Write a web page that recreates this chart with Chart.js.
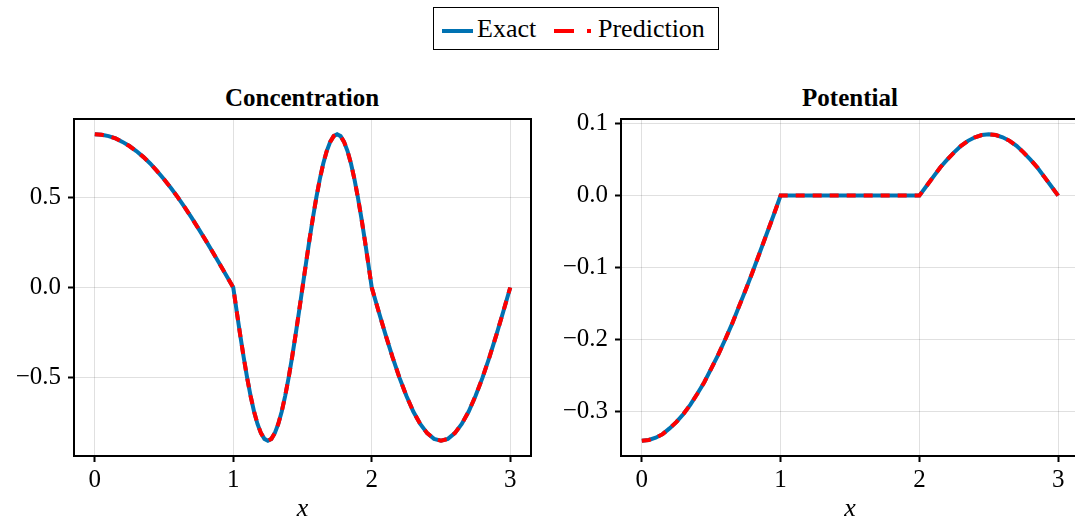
<!DOCTYPE html>
<html>
<head>
<meta charset="utf-8">
<script src="https://cdn.jsdelivr.net/npm/chart.js@4.4.1/dist/chart.umd.min.js"></script>
<style>
  html, body { margin: 0; padding: 0; background: #fff; overflow: hidden; width: 1075px; height: 522px; }
  body { position: relative; font-family: "Liberation Serif", serif; color: #000; }
  canvas { position: absolute; top: 0; }
  #concCanvas { left: 0; }
  #potCanvas { left: 540px; }
  .title { position: absolute; top: 83px; font-size: 25px; font-weight: bold; transform: translateX(-50%); white-space: nowrap; line-height: 30px; }
  #legend { position: absolute; left: 433px; top: 7px; width: 286px; height: 43px; border: 1px solid #000; box-sizing: border-box; }
  #legend svg { position: absolute; top: 20px; }
  #legend span { position: absolute; top: 7px; font-size: 26px; line-height: 28px; }
</style>
</head>
<body>
<div id="legend">
  <svg style="left:8px" width="31" height="6"><line x1="0" y1="3" x2="31" y2="3" stroke="#0072b2" stroke-width="4"/></svg>
  <span style="left:43px">Exact</span>
  <svg style="left:120px" width="37" height="6"><line x1="0" y1="3" x2="37" y2="3" stroke="#ff0000" stroke-width="4" stroke-dasharray="20,13"/></svg>
  <span style="left:164px">Prediction</span>
</div>
<div class="title" style="left:302px">Concentration</div>
<div class="title" style="left:850px">Potential</div>
<canvas id="concCanvas" width="545" height="522"></canvas>
<canvas id="potCanvas" width="545" height="522"></canvas>
<script>
// concentration sampled finer between 1 and 2 where it oscillates fast
const concX = [0, 0.05, 0.1, 0.15, 0.2, 0.25, 0.3, 0.35, 0.4, 0.45, 0.5, 0.55, 0.6, 0.65, 0.7, 0.75, 0.8, 0.85, 0.9, 0.95,
  1, 1.025, 1.05, 1.075, 1.1, 1.125, 1.15, 1.175, 1.2, 1.225, 1.25, 1.275, 1.3, 1.325, 1.35, 1.375, 1.4, 1.425, 1.45, 1.475,
  1.5, 1.525, 1.55, 1.575, 1.6, 1.625, 1.65, 1.675, 1.7, 1.725, 1.75, 1.775, 1.8, 1.825, 1.85, 1.875, 1.9, 1.925, 1.95, 1.975,
  2, 2.05, 2.1, 2.15, 2.2, 2.25, 2.3, 2.35, 2.4, 2.45, 2.5, 2.55, 2.6, 2.65, 2.7, 2.75, 2.8, 2.85, 2.9, 2.95, 3];
const concExact = [0.850, 0.847, 0.840, 0.827, 0.808, 0.785, 0.757, 0.725, 0.688, 0.646, 0.601, 0.552, 0.500, 0.444, 0.386, 0.325, 0.263, 0.198, 0.133, 0.067,
  0.000, -0.133, -0.263, -0.386, -0.500, -0.601, -0.688, -0.757, -0.808, -0.840, -0.850, -0.840, -0.808, -0.757, -0.688, -0.601, -0.500, -0.386, -0.263, -0.133,
  0.000, 0.133, 0.263, 0.386, 0.500, 0.601, 0.688, 0.757, 0.808, 0.840, 0.850, 0.840, 0.808, 0.757, 0.688, 0.601, 0.500, 0.386, 0.263, 0.133,
  0.000, -0.133, -0.263, -0.386, -0.500, -0.601, -0.688, -0.757, -0.808, -0.840, -0.850, -0.840, -0.808, -0.757, -0.688, -0.601, -0.500, -0.386, -0.263, -0.133, 0.000];
const concPred = [0.850, 0.847, 0.840, 0.827, 0.808, 0.785, 0.757, 0.725, 0.688, 0.646, 0.601, 0.552, 0.500, 0.444, 0.386, 0.325, 0.263, 0.198, 0.133, 0.067,
  0.000, -0.133, -0.263, -0.386, -0.500, -0.601, -0.688, -0.757, -0.808, -0.840, -0.850, -0.840, -0.808, -0.757, -0.688, -0.601, -0.500, -0.386, -0.263, -0.133,
  0.000, 0.133, 0.263, 0.386, 0.500, 0.601, 0.688, 0.757, 0.808, 0.840, 0.850, 0.840, 0.808, 0.757, 0.688, 0.601, 0.500, 0.386, 0.263, 0.133,
  0.000, -0.133, -0.263, -0.386, -0.500, -0.601, -0.688, -0.757, -0.808, -0.840, -0.850, -0.840, -0.808, -0.757, -0.688, -0.601, -0.500, -0.386, -0.263, -0.133, 0.000];

const potX = [0, 0.05, 0.1, 0.15, 0.2, 0.25, 0.3, 0.35, 0.4, 0.45, 0.5, 0.55, 0.6, 0.65, 0.7, 0.75, 0.8, 0.85, 0.9, 0.95,
  1, 1.5, 2, 2.05, 2.1, 2.15, 2.2, 2.25, 2.3, 2.35, 2.4, 2.45, 2.5, 2.55, 2.6, 2.65, 2.7, 2.75, 2.8, 2.85, 2.9, 2.95, 3];
const potExact = [-0.340, -0.339, -0.336, -0.331, -0.323, -0.314, -0.303, -0.290, -0.275, -0.259, -0.240, -0.221, -0.200, -0.178, -0.154, -0.130, -0.105, -0.079, -0.053, -0.027,
  0.000, 0.000, 0.000, 0.013, 0.026, 0.039, 0.050, 0.060, 0.069, 0.076, 0.081, 0.084, 0.085, 0.084, 0.081, 0.076, 0.069, 0.060, 0.050, 0.039, 0.026, 0.013, 0.000];
const potPred = [-0.340, -0.339, -0.336, -0.331, -0.323, -0.314, -0.303, -0.290, -0.275, -0.259, -0.240, -0.221, -0.200, -0.178, -0.154, -0.130, -0.105, -0.079, -0.053, -0.027,
  0.000, 0.000, 0.000, 0.013, 0.026, 0.039, 0.050, 0.060, 0.069, 0.076, 0.081, 0.084, 0.085, 0.084, 0.081, 0.076, 0.069, 0.060, 0.050, 0.039, 0.026, 0.013, 0.000];

const xTicks = [0, 1, 2, 3];
const concTicks = [-0.5, 0.0, 0.5];
const potTicks = [-0.3, -0.2, -0.1, 0.0, 0.1];

const FONT = { family: '"Liberation Serif", serif', size: 25, lineHeight: 1.2 };

const frame = {
  id: 'frame',
  afterDraw(chart) {
    const { ctx, chartArea: a } = chart;
    ctx.save();
    ctx.strokeStyle = '#000';
    ctx.lineWidth = 2;
    ctx.strokeRect(a.left, a.top, a.right - a.left, a.bottom - a.top);
    ctx.restore();
  }
};

const fmt = v => (v < 0 ? '\u2212' : '') + Math.abs(v).toFixed(1);

function makeChart(id, xsArr, exact, pred, yTicks, yMin, yMax, yWidth, padRight) {
  const pts = ys => xsArr.map((x, i) => ({ x: x, y: ys[i] }));
  return new Chart(document.getElementById(id), {
    type: 'line',
    data: {
      datasets: [{
        label: 'Exact',
        data: pts(exact),
        borderColor: '#0072b2',
        borderWidth: 4,
        pointRadius: 0,
        tension: 0,
        order: 2
      }, {
        label: 'Prediction',
        data: pts(pred),
        borderColor: '#ff0000',
        borderWidth: 4,
        borderDash: [9, 8],
        pointRadius: 0,
        tension: 0,
        order: 1
      }]
    },
    options: {
      responsive: false,
      animation: false,
      devicePixelRatio: 1,
      layout: { padding: { top: 119, right: padRight, left: 0, bottom: 0 } },
      plugins: { legend: { display: false }, tooltip: { enabled: false } },
      scales: {
        x: {
          type: 'linear',
          min: -0.15,
          max: 3.15,
          afterBuildTicks: s => { s.ticks = xTicks.map(v => ({ value: v })); },
          afterFit: s => { s.height = 66; },
          grid: { color: 'rgba(0,0,0,0.12)', lineWidth: 1, tickColor: '#000', tickWidth: 2, tickLength: 6 },
          border: { display: false },
          ticks: { color: '#000', font: FONT, padding: 3, maxRotation: 0, callback: v => String(v) },
          title: { display: true, text: 'x', color: '#000', padding: 0,
            font: { family: '"Liberation Serif", serif', size: 26, style: 'italic', lineHeight: 1 } }
        },
        y: {
          min: yMin,
          max: yMax,
          afterBuildTicks: s => { s.ticks = yTicks.map(v => ({ value: v })); },
          afterFit: s => { s.width = yWidth; },
          grid: { color: 'rgba(0,0,0,0.12)', lineWidth: 1, tickColor: '#000', tickWidth: 2, tickLength: 6 },
          border: { display: false },
          ticks: { color: '#000', font: FONT, padding: 7, callback: v => fmt(v) }
        }
      }
    },
    plugins: [frame]
  });
}

makeChart('concCanvas', concX, concExact, concPred, concTicks, -0.935, 0.935, 74, 14);
makeChart('potCanvas', potX, potExact, potPred, potTicks, -0.3613, 0.1063, 81, 6);
</script>
</body>
</html>
